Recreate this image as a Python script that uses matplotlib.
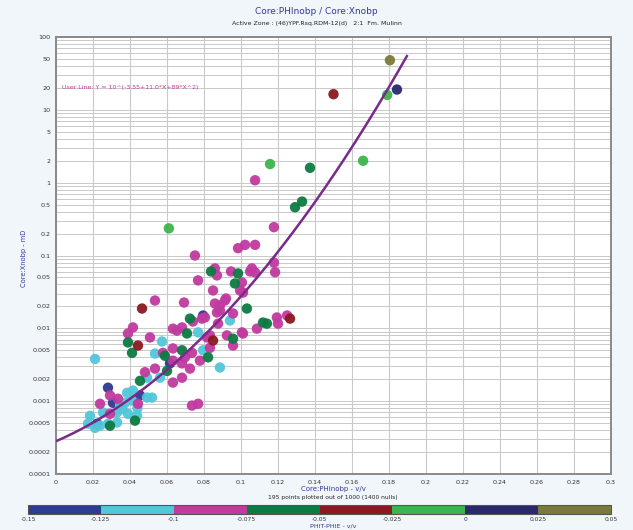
import numpy as np
import matplotlib
matplotlib.use("Agg")
import matplotlib.pyplot as plt
from matplotlib.colors import ListedColormap, BoundaryNorm
from matplotlib.cm import ScalarMappable
from matplotlib.ticker import FixedLocator, NullFormatter, LogLocator

# ---- colour classes (PHIT-PHIE, v/v) ----
class_bounds = [-0.15, -0.125, -0.1, -0.075, -0.05, -0.025, 0.0, 0.025, 0.05]
class_labels = ["-0.15", "-0.125", "-0.1", "-0.075", "-0.05", "-0.025", "0", "0.025", "0.05"]
class_colors = ["#2d3b90", "#52c6da", "#c13a9f", "#0c7a41", "#8a1a20",
                "#3cb54b", "#29286f", "#7b7a3a"]

# ---- samples, grouped by class ----
phi_magenta = [0.1076, 0.1178, 0.1022, 0.1076, 0.0984, 0.0751, 0.1178, 0.1184, 0.0859,
               0.0946, 0.1049, 0.1076, 0.0768, 0.0849, 0.0995, 0.0535, 0.0692, 0.0886,
               0.0919, 0.0870, 0.0957, 0.0789, 0.0740, 0.0876, 0.1194, 0.1249, 0.1200,
               0.1086, 0.0416, 0.0389, 0.0508, 0.0632, 0.0654, 0.0681, 0.0816, 0.0924,
               0.1011, 0.0957, 0.0832, 0.0735, 0.0632, 0.0697, 0.0632, 0.0578, 0.0481,
               0.0535, 0.0681, 0.0724, 0.0778, 0.0632, 0.0681, 0.0292, 0.0335, 0.0238,
               0.0443, 0.0735, 0.0768, 0.0292, 0.0870, 0.1059, 0.0859, 0.0913, 0.1011,
               0.0886, 0.0805, 0.1005, 0.0832, 0.1005]
k_magenta = [1.08, 0.245, 0.14, 0.14, 0.126, 0.10, 0.080, 0.059, 0.0665,
             0.0604, 0.0604, 0.0586, 0.0455, 0.0331, 0.0331, 0.0241, 0.0226, 0.0206,
             0.0257, 0.0165, 0.0160, 0.0136, 0.0124, 0.0116, 0.0141, 0.0150, 0.0116,
             0.0099, 0.0103, 0.0085, 0.0075, 0.0099, 0.0093, 0.0103, 0.0075, 0.0080,
             0.0085, 0.0058, 0.0054, 0.0046, 0.0053, 0.0040, 0.0036, 0.0046, 0.0025,
             0.0028, 0.0033, 0.0028, 0.0036, 0.0018, 0.0021, 0.0012, 0.00108, 0.00092,
             0.00092, 0.00087, 0.00092, 0.00067, 0.0533, 0.0665, 0.0219, 0.0241, 0.0310,
             0.0176, 0.0141, 0.0088, 0.0080, 0.0427]

phi_cyan = [0.0940, 0.0573, 0.0768, 0.0795, 0.0535, 0.0886, 0.0211, 0.0562, 0.0492,
            0.0384, 0.0416, 0.0492, 0.0519, 0.0346, 0.0373, 0.0411, 0.0184, 0.0254,
            0.0330, 0.0389, 0.0438, 0.0173, 0.0238, 0.0281, 0.0330, 0.0211, 0.0440,
            0.0360]
k_cyan = [0.0128, 0.0066, 0.0088, 0.0050, 0.0045, 0.0029, 0.0038, 0.0021, 0.0021,
          0.0013, 0.0014, 0.00112, 0.00112, 0.00087, 0.00095, 0.00102, 0.00063, 0.00070,
          0.00070, 0.00067, 0.00063, 0.00049, 0.00046, 0.00049, 0.00051, 0.00043, 0.00080,
          0.00078]

phi_dkgreen = [0.1373, 0.1292, 0.1330, 0.0838, 0.0984, 0.0967, 0.1032, 0.0724, 0.1119,
               0.1140, 0.0389, 0.0411, 0.0708, 0.0957, 0.0822, 0.0681, 0.0589, 0.0600,
               0.0454, 0.0427, 0.0292]
k_dkgreen = [1.6, 0.46, 0.55, 0.0604, 0.0567, 0.0413, 0.0187, 0.0136, 0.0120,
             0.0116, 0.0064, 0.0046, 0.0085, 0.0072, 0.0040, 0.0050, 0.0042, 0.0026,
             0.0019, 0.00054, 0.00046]

phi_green = [0.179, 0.166, 0.1157, 0.061]
k_green = [16.0, 2.0, 1.8, 0.236]

phi_dkred = [0.150, 0.0465, 0.1265, 0.0443, 0.0849]
k_dkred = [16.4, 0.0187, 0.0136, 0.0058, 0.0068]

phi_dkblue = [0.0795, 0.0616, 0.0281, 0.0454, 0.0308, 0.0222]
k_dkblue = [0.0150, 0.0033, 0.00153, 0.0012, 0.00095, 0.00049]

phi_navy = [0.1843]
k_navy = [19.0]

phi_olive = [0.1805]
k_olive = [48.0]

groups = [
    (phi_dkblue, k_dkblue, -0.1375),
    (phi_cyan, k_cyan, -0.1125),
    (phi_magenta, k_magenta, -0.0875),
    (phi_dkgreen, k_dkgreen, -0.0625),
    (phi_dkred, k_dkred, -0.0375),
    (phi_green, k_green, -0.0125),
    (phi_navy, k_navy, 0.0125),
    (phi_olive, k_olive, 0.0375),
]

# user line: Y = 10^(a + b*X + c*X^2)
line_a, line_b, line_c = -3.55, 11.0, 89.0
line_xmax = 0.19

x_ticks = [0, 0.02, 0.04, 0.06, 0.08, 0.1, 0.12, 0.14, 0.16, 0.18, 0.2, 0.22, 0.24, 0.26, 0.28, 0.3]
x_ticklabels = ["0", "0.02", "0.04", "0.06", "0.08", "0.1", "0.12", "0.14", "0.16", "0.18",
                "0.2", "0.22", "0.24", "0.26", "0.28", "0.3"]
y_ticks = [100, 50, 20, 10, 5, 2, 1, 0.5, 0.2, 0.1, 0.05, 0.02, 0.01, 0.005, 0.002,
           0.001, 0.0005, 0.0002, 0.0001]
y_ticklabels = ["100", "50", "20", "10", "5", "2", "1", "0.5", "0.2", "0.1", "0.05", "0.02",
                "0.01", "0.005", "0.002", "0.001", "0.0005", "0.0002", "0.0001"]

W, H = 633, 530
fig = plt.figure(figsize=(W / 100, H / 100), dpi=100)
fig.patch.set_facecolor("#f1f6fb")

ax = fig.add_axes([56 / W, 1 - 474 / H, (611 - 56) / W, (474 - 37) / H])
ax.set_facecolor("white")

cmap = ListedColormap(class_colors)
norm = BoundaryNorm(class_bounds, cmap.N)

for xs, ys, v in groups:
    ax.scatter(xs, ys, c=[v] * len(xs), cmap=cmap, norm=norm, s=56,
               edgecolors="none", alpha=0.95, zorder=3)

xl = np.linspace(0, line_xmax, 300)
ax.plot(xl, 10 ** (line_a + line_b * xl + line_c * xl ** 2), color="#7a2a8a",
        lw=1.8, zorder=4, solid_capstyle="butt")

ax.set_xlim(0, 0.3)
ax.set_yscale("log")
ax.set_ylim(0.0001, 100)

ax.xaxis.set_major_locator(FixedLocator(x_ticks))
ax.set_xticklabels(x_ticklabels)
ax.yaxis.set_major_locator(FixedLocator(y_ticks))
ax.set_yticklabels(y_ticklabels)
ax.yaxis.set_minor_locator(LogLocator(base=10, subs=np.arange(2, 10)))
ax.yaxis.set_minor_formatter(NullFormatter())

ax.grid(True, which="major", axis="x", color="#c9c9c9", lw=0.8, zorder=0)
ax.grid(True, which="both", axis="y", color="#c9c9c9", lw=0.7, zorder=0)
ax.set_axisbelow(True)
ax.tick_params(axis="both", which="both", length=0, labelsize=4.6,
               labelcolor="#333333", pad=4)
ax.tick_params(axis="y", which="minor", length=0)
for sp in ax.spines.values():
    sp.set_color("#8a8a8a")
    sp.set_linewidth(1.4)

ax.text(0.003, 20, "User Line: Y = 10^(-3.55+11.0*X+89*X^2)", color="#c13a9f",
        fontsize=4.5, va="center", ha="left")

fig.text(0.5, 1 - 12 / H, "Core:PHInobp / Core:Xnobp", ha="center", va="center",
         fontsize=6.5, color="#35389a")
fig.text(0.5, 1 - 24 / H, "Active Zone : (46)YPF.Rsq.RDM-12(d)   2:1  Fm. Mulinn",
         ha="center", va="center", fontsize=4.5, color="#222222")
fig.text(333 / W, 1 - 489 / H, "Core:PHInobp - v/v", ha="center", va="center",
         fontsize=5, color="#35389a")
fig.text(333 / W, 1 - 497 / H, "195 points plotted out of 1000 (1400 nulls)",
         ha="center", va="center", fontsize=4.3, color="#222222")
fig.text(24 / W, 1 - 258 / H, "Core:Xnobp - mD", rotation=90, ha="center",
         va="center", fontsize=4.8, color="#35389a")

cax = fig.add_axes([28 / W, 1 - 514 / H, (611 - 28) / W, 9 / H])
cb = fig.colorbar(ScalarMappable(norm=norm, cmap=cmap), cax=cax,
                  orientation="horizontal", ticks=class_bounds)
cb.ax.set_xticklabels(class_labels)
cb.ax.tick_params(labelsize=4.3, length=0, pad=2, labelcolor="#333333")
cb.outline.set_edgecolor("#555555")
cb.outline.set_linewidth(0.8)
fig.text(333 / W, 1.5 / H, "PHIT-PHIE - v/v", ha="center", va="bottom",
         fontsize=4.6, color="#35389a")

fig.savefig("out.png", dpi=100, facecolor=fig.get_facecolor())
